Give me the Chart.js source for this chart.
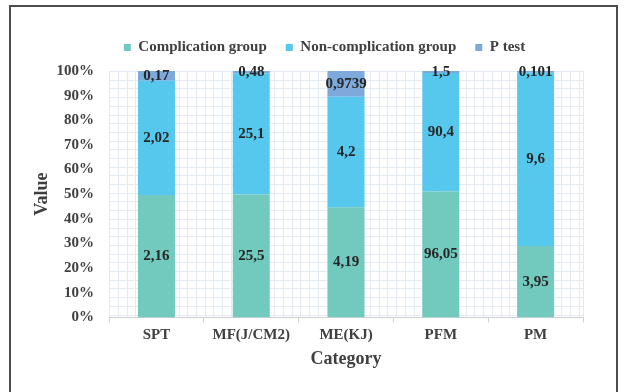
<!DOCTYPE html>
<html>
<head>
<meta charset="utf-8">
<script src="https://cdn.jsdelivr.net/npm/chart.js@4"></script>
<style>
    html, body { margin: 0; padding: 0; background: #fff; }
    #frame {
        position: absolute; left: 9px; top: 5px; width: 609px; height: 420px;
        border: 2px solid #4d4d4d; box-sizing: border-box;
    }
    #wrap { position: absolute; left: 0; top: 0; width: 627px; height: 392px; }
</style>
</head>
<body>
<div id="frame"></div>
<div id="wrap"><canvas id="myChart" width="627" height="392"></canvas></div>
<script>
const categories = ['SPT', 'MF(J/CM2)', 'ME(KJ)', 'PFM', 'PM'];
const complication = [2.16, 25.5, 4.19, 96.05, 3.95];
const nonComplication = [2.02, 25.1, 4.2, 90.4, 9.6];
const pTest = [0.17, 0.48, 0.9739, 1.5, 0.101];
const yTicks = [0, 10, 20, 30, 40, 50, 60, 70, 80, 90, 100];

const seriesNames = ['Complication group', 'Non-complication group', 'P test'];
const seriesColors = ['#72c9be', '#56c8ed', '#7eaadb'];
const rawSeries = [complication, nonComplication, pTest];

// stacked to 100% per category
const totals = categories.map((c, i) => rawSeries.reduce((s, arr) => s + arr[i], 0));
const toPercent = arr => arr.map((v, i) => v / totals[i] * 100);

const serif = '"Liberation Serif", "Times New Roman", serif';
const textColor = '#404040';

// extra room under the legend, and nudge it a bit to the right
const legendTweak = {
    id: 'legendTweak',
    beforeInit(chart) {
        const fit = chart.legend.fit;
        chart.legend.fit = function () {
            fit.bind(chart.legend)();
            this.height += 6;
        };
    },
    beforeDraw(chart) {
        chart.legend.left += 17;
        chart.legend.right += 17;
    }
};

// light square grid behind the bars
const gridPattern = {
    id: 'gridPattern',
    beforeDatasetsDraw(chart) {
        const { ctx, chartArea: a } = chart;
        const step = 8.7;
        ctx.save();
        ctx.strokeStyle = '#e3eaf2';
        ctx.lineWidth = 1;
        ctx.beginPath();
        for (let x = a.left; x <= a.right + 0.5; x += step) {
            ctx.moveTo(Math.round(x) + 0.5, a.top);
            ctx.lineTo(Math.round(x) + 0.5, a.bottom);
        }
        for (let y = a.top; y <= a.bottom + 0.5; y += step) {
            ctx.moveTo(a.left, Math.round(y) + 0.5);
            ctx.lineTo(a.right, Math.round(y) + 0.5);
        }
        ctx.moveTo(Math.round(a.right) + 0.5, a.top);
        ctx.lineTo(Math.round(a.right) + 0.5, a.bottom);
        ctx.stroke();
        ctx.restore();
    }
};

// raw values written in the middle of each segment
const segmentLabels = {
    id: 'segmentLabels',
    afterDatasetsDraw(chart) {
        const { ctx } = chart;
        ctx.save();
        ctx.font = 'bold 15px ' + serif;
        ctx.fillStyle = '#262626';
        ctx.textAlign = 'center';
        ctx.textBaseline = 'middle';
        chart.data.datasets.forEach((ds, di) => {
            chart.getDatasetMeta(di).data.forEach((bar, i) => {
                const txt = String(rawSeries[di][i]).replace('.', ',');
                ctx.fillText(txt, bar.x, (bar.y + bar.base) / 2);
            });
        });
        ctx.restore();
    }
};

const ctx = document.getElementById('myChart');
const chart = new Chart(ctx, {
    type: 'bar',
    data: {
        labels: categories,
        datasets: rawSeries.map((arr, i) => ({
            label: seriesNames[i],
            data: toPercent(arr),
            backgroundColor: seriesColors[i],
            borderWidth: 0,
            categoryPercentage: 1,
            barPercentage: 0.39,
        }))
    },
    options: {
        responsive: false,
        animation: false,
        layout: { padding: { top: 21, left: 32, right: 44, bottom: 18 } },
        plugins: {
            tooltip: { enabled: false },
            legend: {
                position: 'top',
                labels: {
                    boxWidth: 7,
                    boxHeight: 7,
                    padding: 19,
                    color: textColor,
                    font: { family: serif, size: 15, weight: 'bold' }
                }
            }
        },
        scales: {
            x: {
                stacked: true,
                grid: {
                    display: true,
                    drawOnChartArea: false,
                    offset: true,
                    tickLength: 5,
                    color: '#d0d0d0'
                },
                border: { color: '#d0d0d0' },
                ticks: {
                    color: textColor,
                    padding: 4,
                    font: { family: serif, size: 15, weight: 'bold' }
                },
                title: {
                    display: true,
                    text: 'Category',
                    color: textColor,
                    padding: { top: 0 },
                    font: { family: serif, size: 18, weight: 'bold' }
                }
            },
            y: {
                stacked: true,
                min: 0,
                max: 100,
                afterBuildTicks: axis => { axis.ticks = yTicks.map(v => ({ value: v })); },
                grid: { display: false },
                border: { display: false },
                ticks: {
                    color: textColor,
                    padding: 7,
                    callback: v => v + '%',
                    font: { family: serif, size: 15, weight: 'bold' }
                },
                title: {
                    display: true,
                    text: 'Value',
                    color: textColor,
                    padding: { top: 0, bottom: -4 },
                    font: { family: serif, size: 18, weight: 'bold' }
                }
            }
        }
    },
    plugins: [legendTweak, gridPattern, segmentLabels]
});
</script>
</body>
</html>
